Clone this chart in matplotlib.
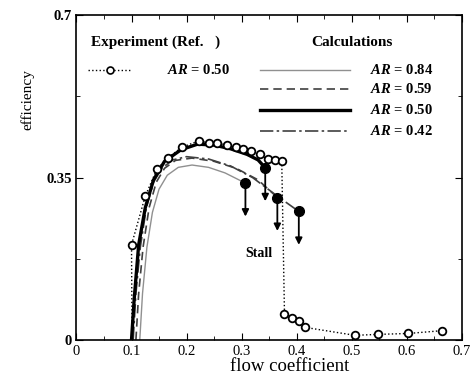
import matplotlib.pyplot as plt
import numpy as np

plt.rcParams['font.family'] = ['Liberation Serif', 'DejaVu Serif']
plt.rcParams['mathtext.fontset'] = 'custom'
plt.rcParams['mathtext.rm'] = 'Liberation Serif'
plt.rcParams['mathtext.it'] = 'Liberation Serif:italic:bold'
plt.rcParams['mathtext.bf'] = 'Liberation Serif:bold'

# Experiment (AR = 0.50), first point is the line start on the axis (no marker)
exp_x = [0.101, 0.100, 0.125, 0.146, 0.167, 0.191, 0.222, 0.240, 0.255, 0.273, 0.289,
         0.303, 0.318, 0.333, 0.348, 0.360, 0.373, 0.378, 0.392, 0.404, 0.416,
         0.506, 0.548, 0.603, 0.664]
exp_y = [0.0, 0.205, 0.310, 0.368, 0.393, 0.415, 0.429, 0.425, 0.425, 0.420, 0.416,
         0.412, 0.407, 0.400, 0.389, 0.387, 0.385, 0.055, 0.047, 0.040, 0.027,
         0.010, 0.012, 0.014, 0.020]

# Calculations
ar84_x = [0.115, 0.120, 0.128, 0.138, 0.150, 0.165, 0.185, 0.210, 0.240, 0.270, 0.307]
ar84_y = [0.0, 0.10, 0.20, 0.275, 0.325, 0.355, 0.372, 0.377, 0.372, 0.360, 0.338]

ar59_x = [0.108, 0.113, 0.121, 0.132, 0.145, 0.160, 0.180, 0.210, 0.250, 0.290, 0.330, 0.365]
ar59_y = [0.0, 0.10, 0.20, 0.285, 0.340, 0.370, 0.387, 0.392, 0.385, 0.370, 0.345, 0.307]

ar50_x = [0.100, 0.105, 0.113, 0.125, 0.140, 0.160, 0.190, 0.220, 0.250, 0.280, 0.310, 0.330, 0.343]
ar50_y = [0.0, 0.09, 0.205, 0.285, 0.345, 0.385, 0.410, 0.422, 0.420, 0.412, 0.400, 0.388, 0.371]

ar42_x = [0.103, 0.108, 0.116, 0.127, 0.140, 0.155, 0.175, 0.200, 0.240, 0.280, 0.320, 0.365, 0.404]
ar42_y = [0.0, 0.10, 0.20, 0.285, 0.340, 0.370, 0.388, 0.395, 0.390, 0.375, 0.350, 0.310, 0.277]

# Stall points (end of each calculation) and arrow drop
stall_x = [0.307, 0.343, 0.365, 0.404]
stall_y = [0.338, 0.371, 0.307, 0.277]
arrow_drop = 0.072

fig = plt.figure(figsize=(4.75, 3.79), dpi=100)
ax = fig.add_axes([0.161, 0.103, 0.811, 0.857])

ax.plot(ar84_x, ar84_y, color='#909090', lw=1.0)
ax.plot(ar59_x, ar59_y, color='#404040', lw=1.2, ls=(0, (5, 3)))
ax.plot(ar42_x, ar42_y, color='#404040', lw=1.2, ls=(0, (8, 2, 1.5, 2)))
ax.plot(ar50_x, ar50_y, color='black', lw=2.4)

ax.plot(exp_x, exp_y, color='black', lw=1.0, ls=':', marker='o', ms=5.5,
        mfc='white', mec='black', mew=1.3, markevery=list(range(1, len(exp_x))))

ax.plot(stall_x, stall_y, 'o', color='black', ms=7, ls='none', zorder=5)
for sx, sy in zip(stall_x, stall_y):
    ax.annotate('', xy=(sx, sy - arrow_drop), xytext=(sx, sy),
                arrowprops=dict(arrowstyle='-|>', color='black', lw=1.3,
                                mutation_scale=10, shrinkA=0, shrinkB=0))

ax.text(0.331, 0.187, 'Stall', fontsize=10, fontweight='bold', ha='center', va='center')

# Legend drawn by hand
ta = ax.transAxes
ax.text(0.039, 0.916, 'Experiment (Ref.   )', transform=ta, fontsize=11,
        fontweight='bold', va='center')
ax.text(0.61, 0.916, 'Calculations', transform=ta, fontsize=11,
        fontweight='bold', va='center')
ax.plot([0.03, 0.138], [0.831, 0.831], transform=ta, color='black', lw=1.0, ls=':')
ax.plot([0.087], [0.831], transform=ta, marker='o', ms=5, mfc='white', mec='black', mew=1.2)
ax.text(0.234, 0.831, r'$\mathit{AR}$ = 0.50', transform=ta, fontsize=10.5,
        fontweight='bold', va='center')

leg_styles = [
    dict(color='#909090', lw=1.0),
    dict(color='#404040', lw=1.2, ls=(0, (5, 3))),
    dict(color='black', lw=2.4),
    dict(color='#404040', lw=1.2, ls=(0, (8, 2, 1.5, 2))),
]
leg_labels = ['0.84', '0.59', '0.50', '0.42']
leg_y = [0.831, 0.772, 0.708, 0.642]
for st, lab, yy in zip(leg_styles, leg_labels, leg_y):
    ax.plot([0.476, 0.71], [yy, yy], transform=ta, **st)
    ax.text(0.762, yy, r'$\mathit{AR}$ = ' + lab, transform=ta, fontsize=10.5,
            fontweight='bold', va='center')

ax.set_xlim(0, 0.7)
ax.set_ylim(0, 0.7)
ax.set_xticks(np.arange(0, 0.71, 0.1))
ax.set_xticklabels(['0', '0.1', '0.2', '0.3', '0.4', '0.5', '0.6', '0.7'])
ax.set_xticks(np.arange(0.05, 0.7, 0.1), minor=True)
ax.set_yticks([0, 0.35, 0.7])
ax.set_yticklabels(['0', '0.35', '0.7'], fontweight='bold')
ax.set_yticks([0.175, 0.525], minor=True)
ax.tick_params(which='both', direction='in', top=True, right=True, labelsize=10.5)
ax.tick_params(which='major', length=5)
ax.tick_params(which='minor', length=3)
for sp in ax.spines.values():
    sp.set_linewidth(1.2)

ax.set_xlabel('flow coefficient', fontsize=13.5)
ax.xaxis.set_label_coords(0.554, -0.055)
ax.set_ylabel('efficiency', fontsize=11)
ax.yaxis.set_label_coords(-0.11, 0.74)

fig.savefig('out.png', dpi=100)
